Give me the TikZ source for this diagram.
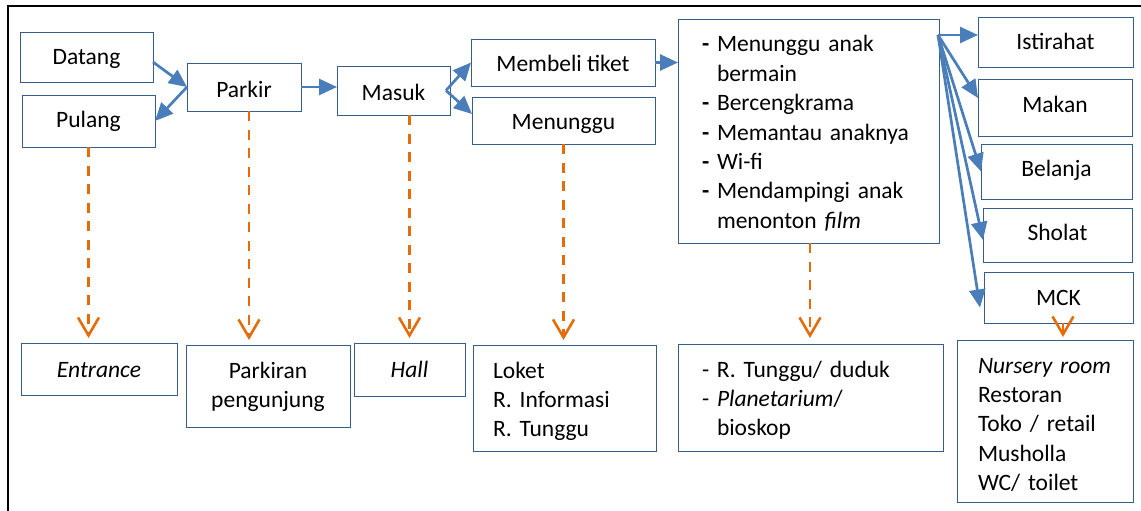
\documentclass[tikz,border=0pt]{standalone}
\usepackage{fontspec}
\setmainfont{Carlito}
\usetikzlibrary{arrows.meta,calc}

\definecolor{boxline}{RGB}{56,93,138}
\definecolor{flow}{RGB}{74,126,187}
\definecolor{zone}{RGB}{228,108,10}

% list items: bold dash, plain dash, and continuation lines
\newcommand{\bul}[1]{\mbox{\makebox[15pt][l]{\textbf{-}}#1}}
\newcommand{\dashitem}[1]{\mbox{\makebox[15pt][l]{-}#1}}
\newcommand{\cont}[1]{\mbox{\hspace*{15pt}#1}}

\tikzset{
  box/.style={draw=boxline, line width=0.9pt, rectangle, anchor=north west,
    inner sep=0pt, outer sep=0pt, text depth=0pt,
    font=\fontsize{23.5}{29.4}\selectfont},
  flowarrow/.style={draw=flow, line width=2.7pt,
    -{Triangle[length=18pt,width=16pt]}},
  zonearrow/.style={draw=zone, line width=2.6pt, dash pattern=on 10pt off 8.5pt,
    -{Straight Barb[length=18pt,width=21pt,line width=2.6pt]}, shorten >=5pt},
}

\begin{document}
\begin{tikzpicture}[x=1pt,y=-1pt]
\useasboundingbox (0,0) rectangle (1141,511);

% outer frame (top and left edges)
\draw[line width=2.6pt] (8,511) -- (8,6) -- (1141,6);

% activity row
\node[box, minimum width=133pt, minimum height=50pt, text height=16pt] (datang) at (20,32) {Datang};
\node[box, minimum width=133pt, minimum height=52pt, text height=14pt] (pulang) at (22,95) {Pulang};
\node[box, minimum width=114pt, minimum height=48pt, text height=20pt] (parkir) at (187,63) {Parkir};
\node[box, minimum width=113pt, minimum height=49pt, text height=19pt] (masuk) at (337,66) {Masuk};
\node[box, minimum width=184pt, minimum height=47pt, text height=19pt] (membeli) at (471,39) {Membeli tiket};
\node[box, minimum width=183pt, minimum height=47pt, text height=17pt] (menunggu) at (472,97) {Menunggu};
\node[box, minimum width=261pt, minimum height=224pt, text width=213pt, inner xsep=24pt,
      align=left, text height=18.4pt, text depth=176.4pt] (list) at (678,19)
  {\bul{Menunggu anak}\\\cont{bermain}\\\bul{Bercengkrama}\\\bul{Memantau anaknya}\\\bul{Wi-fi}\\\bul{Mendampingi anak}\\\cont{menonton \textit{film}}};
\node[box, minimum width=155pt, minimum height=50pt, text height=16pt] (istirahat) at (978,17) {Istirahat};
\node[box, minimum width=154pt, minimum height=57pt, text height=11pt] (makan) at (978,79) {Makan};
\node[box, minimum width=151pt, minimum height=55pt, text height=10.5pt] (belanja) at (981,144) {Belanja};
\node[box, minimum width=149pt, minimum height=54pt, text height=11.5pt] (sholat) at (983,208) {Sholat};
\node[box, minimum width=149pt, minimum height=51pt, text height=15pt] (mck) at (984,272) {MCK};

% space row
\node[box, minimum width=156pt, minimum height=52pt, text height=16pt] (entrance) at (21,343) {\textit{Entrance}};
\node[box, minimum width=164pt, minimum height=82pt, text width=150pt, inner xsep=7pt,
      align=center, text height=13.5pt, text depth=29.4pt] (parkiran) at (186,345)
  {Parkiran\\pengunjung};
\node[box, minimum width=111pt, minimum height=53pt, text height=15pt] (hall) at (354,343) {\textit{Hall}};
\node[box, minimum width=183pt, minimum height=106pt, text width=143pt, inner xsep=20pt,
      align=left, text height=18.8pt, text depth=58.8pt] (loket) at (473,345)
  {Loket\\R. Informasi\\R. Tunggu};
\node[box, minimum width=265pt, minimum height=107pt, text width=217pt, inner xsep=24pt,
      align=left, text height=17.8pt, text depth=58.8pt] (tunggu) at (678,344)
  {\dashitem{R. Tunggu/ duduk}\\\dashitem{\textit{Planetarium}/}\\\cont{bioskop}};
\node[box, minimum width=176pt, minimum height=162pt, text width=134pt, inner xsep=21pt,
      align=left, text height=21.6pt, text depth=117.6pt] (fasilitas) at (957,340)
  {\mbox{\textit{Nursery room}}\\Restoran\\\mbox{Toko / retail}\\Musholla\\\mbox{WC/ toilet}};

% activity flow
\draw[flowarrow] ([yshift=-5pt]datang.east) -- (parkir.west);
\draw[flowarrow] (parkir.west) -- (pulang.east);
\draw[flowarrow] (parkir.east) -- (parkir.east -| masuk.west);
\draw[flowarrow] ([xshift=-4pt]masuk.east) -- (membeli.west);
\draw[flowarrow] ([xshift=-4pt]masuk.east) -- ([yshift=6.5pt]menunggu.west);
\draw[flowarrow] (membeli.east) -- (membeli.east -| list.west);
\coordinate (fan) at ([xshift=-1pt,yshift=-16pt]list.north east);
\draw[flowarrow] (fan) -- (fan -| istirahat.west);
\draw[flowarrow] (fan) -- ([yshift=9.5pt]makan.west);
\draw[flowarrow] (fan) -- (belanja.west);
\draw[flowarrow] (fan) -- ([yshift=-5pt]sholat.west);
\draw[flowarrow] (fan) -- ([xshift=-4pt,yshift=-10pt]mck.west);

% activity to space
\draw[zonearrow] (pulang.south) -- (pulang.south |- entrance.north);
\draw[zonearrow] ([xshift=5pt]parkir.south) -- ([xshift=5pt]parkir.south |- parkiran.north);
\draw[zonearrow] (hall.north |- masuk.south) -- (hall.north);
\draw[zonearrow] (menunggu.south) -- (menunggu.south |- loket.north);
\draw[zonearrow, shorten >=6pt] ([xshift=1.5pt]list.south) -- ([xshift=1.5pt]list.south |- tunggu.north);
\draw[zonearrow, shorten >=3pt] ([xshift=4.5pt]mck.south) -- ([xshift=4.5pt]mck.south |- fasilitas.north);
\end{tikzpicture}
\end{document}
